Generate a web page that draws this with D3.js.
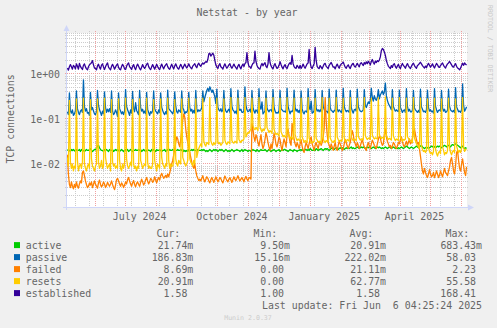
<!DOCTYPE html>
<html><head><meta charset="utf-8">
<script src="https://cdn.jsdelivr.net/npm/d3@7"></script>
<style>
html,body{margin:0;padding:0;background:#f0f0f0;}
svg{display:block;}
text{font-family:"DejaVu Sans Mono",monospace;}
</style></head><body>
<svg id="chart" width="497" height="328"></svg>
<script>
// ---- data (daily samples, values in milli-connections) ----
const firstSample = "2024-05-04T00:00:00Z";
const seriesNames = ["active","passive","failed","resets","established"];
const seriesColors = ["#00CC00","#0066B3","#FF8000","#FFCC00","#330099"];

const active = [
20,21,20,19,21,20,21, 20,19,21,20,20,21,19, 21,20,20,19,20,21,20, 20,21,22,20,19,20,21,
21,22,25,26,23,21,20, 20,19,21,20,21,20,19, 21,20,20,21,19,20,21, 20,21,20,19,20,21,20,
19,20,21,20,21,19,20, 21,20,19,20,20,21,20, 20,21,20,21,19,20,21, 20,19,20,21,20,20,19,
21,20,21,20,19,21,20, 20,21,20,19,20,20,21, 19,20,21,20,21,20,20, 21,20,19,20,20,21,20,
20,21,20,21,19,20,19, 20,19,21,20,20,21,20, 21,20,20,19,21,20,20, 20,21,20,21,20,19,20,
19,20,21,20,19,20,21, 20,21,20,19,20,21,20, 21,20,19,20,21,20,19, 20,19,20,21,20,19,20,
20,21,20,20,19,20,21, 19,20,21,20,20,19,20, 20,19,20,21,20,20,19, 21,20,19,20,21,20,20,
20,21,20,19,20,21,20, 19,20,20,21,20,19,20, 20,21,19,20,21,20,21, 21,20,20,19,20,21,20,
20,19,21,20,20,19,20, 20,21,20,21,20,20,21, 21,20,21,20,22,21,20, 20,21,20,22,21,20,21,
21,22,21,20,21,22,21, 22,21,20,21,22,23,22, 21,22,23,22,21,22,23, 22,23,22,21,22,23,22,
23,22,23,24,22,23,22, 22,23,24,23,22,23,24, 23,24,23,22,23,24,23, 24,23,22,23,24,23,22,
23,24,23,24,23,22,23, 22,23,24,23,22,23,24, 23,22,23,24,23,22,23, 22,23,22,23,24,23,22,
23,24,25,24,23,22,23, 24,23,22,23,24,25,24, 23,24,25,26,24,23,22, 23,24,23,22,23,24,25,
24,25,24,23,24,25,24, 25,24,23,24,25,26,25, 24,25,26,25,24,26,27, 26,27,28,27,26,25,24,
23,24,25,23,22,23,22];

const passive = [
145,125,380,150,135,160,120, 130,150,420,170,140,125,150, 160,140,740,190,150,170,135, 140,120,390,160,180,150,130,
125,145,430,200,160,140,120, 150,130,400,180,140,165,145, 170,140,420,150,125,135,160, 140,115,380,170,150,130,145,
125,150,450,190,160,140,120, 160,135,410,170,145,230,155, 140,125,430,180,150,165,135, 150,130,390,160,140,120,145,
135,155,420,170,150,140,130, 160,140,380,180,155,135,125, 145,130,440,170,160,150,140, 130,155,400,190,145,135,160,
150,140,420,175,160,130,145, 140,160,390,180,150,165,135, 155,135,430,170,145,160,150, 160,180,420,240,300,360,430,
480,410,520,450,390,440,370, 310,220,460,180,160,150,170, 145,160,430,175,150,140,155, 165,140,470,190,160,150,135,
150,130,440,170,155,165,140, 140,155,520,200,160,145,150, 165,140,430,180,150,135,160, 150,135,470,190,165,240,130,
140,150,420,175,155,145,160, 160,145,450,185,150,135,140, 135,155,430,170,160,150,145, 150,140,480,190,155,130,150,
145,160,440,180,150,165,140, 155,135,420,170,140,130,150, 150,140,470,185,160,250,135, 140,155,450,175,150,160,145,
160,145,430,190,165,140,150, 145,135,460,180,155,150,140, 155,150,440,170,145,160,150, 140,160,480,190,160,145,155,
150,140,430,180,150,135,160, 165,150,460,190,165,150,145, 150,160,450,200,180,210,240, 220,260,480,300,250,330,280,
260,300,450,280,340,380,420, 350,400,630,330,260,220,200, 180,160,450,190,165,150,160, 150,145,440,180,160,140,155,
160,140,470,190,150,165,145, 145,155,430,175,160,150,140, 155,140,460,185,165,145,150, 140,160,440,180,150,160,145,
150,135,470,190,160,140,155, 160,150,430,175,150,165,140, 145,155,460,190,160,150,145, 155,140,500,185,165,145,150,
140,160,600,200,150,165,187];

const failed = [
16,6,3.5,3,4,3.2,2.8, 3.5,3,4,3.2,2.9,3.6,4.2, 3.8,6.5,7,5.5,4.2,3.5,3, 3.2,3.8,3.4,4,3,3.5,4.2,
3.6,3.2,2.9,3.8,4.4,3.5,3.1, 3.4,4,3.6,3,3.3,3.9,3.5, 3.2,3.6,4.2,3.5,3,2.7,3.4, 4.5,4.8,4.2,3.6,3.2,3.8,3.5,
3,3.4,4,3.6,4.5,5,4.2, 3.6,3.2,3.8,4.3,3.5,3.1,3.7, 4,3.5,3.2,3.9,4.6,4,3.4, 3.8,4.4,5,4.2,3.6,4,4.8,
4.5,3.9,4.2,5.2,4.4,3.8,4.5, 5,4.4,5.5,6.2,5.4,4.8,5.2, 5.6,5,6,5.2,6.3,8,10, 12,16,22,30,40,36,28,
24,35,60,95,130,110,60, 40,30,24,18,14,11,9, 8,10,7,5.5,4.8,4.3,4.6, 4.2,4.8,5.5,4.5,4,4.6,5.2,
4.8,4.2,3.8,4.5,5,4.4,3.9, 4.5,5.2,4.6,4,4.4,5,4.7, 4.2,3.8,4.5,5.4,4.8,4.3,4, 4.6,5,4.4,3.9,4.5,5.2,4.6,
4.3,4.8,5.5,4.7,4.2,4.6,5, 4.5,4,4.8,5.3,4.6,4.3,4.9, 5,4.6,80,60,40,32,45, 38,30,25,34,45,28,22,
26,35,50,40,30,24,20, 28,22,32,48,38,27,24, 30,40,35,25,20,28,36, 30,24,45,60,42,30,26,
80,55,35,28,24,30,26, 22,28,35,25,20,18,24, 30,26,22,28,35,40,28, 24,20,26,30,25,22,28,
32,26,30,40,60,300,90, 45,30,26,22,28,24,20, 25,30,22,20,26,32,28, 24,20,22,28,35,30,25,
22,26,30,40,55,45,32, 28,24,30,26,22,25,30, 35,28,24,22,20,26,30, 25,22,28,34,30,26,24,
22,28,35,42,38,30,26, 28,45,60,40,32,28,24, 26,22,25,30,28,24,22, 25,30,28,35,40,32,26,
24,28,32,26,30,36,28, 30,38,50,60,45,35,28, 30,22,15,10,7,6,8, 6.5,5.5,5,6,7.5,6,5.2,
5.5,6.5,5,5.8,7,6,5, 5.6,7,6,5.2,6.4,8,6.5, 6,5.5,7,8.5,12,14,10, 7,6,9,18,20,12,8,
7,10,13,9,6.5,5.5,8.7];

const resets = [
14,9,260,11,8,10,7, 9,8,280,12,7,9,10, 8,11,290,10,8,7,9, 10,8,270,13,9,8,7,
9,10,280,11,8,9,12, 8,9,290,14,10,8,9, 10,7,270,11,9,10,8, 9,8,280,12,8,7,10,
8,10,290,13,9,8,9, 11,9,270,10,8,9,7, 9,8,280,12,10,8,9, 10,9,290,11,8,9,8,
8,10,270,12,9,7,10, 9,8,280,14,10,9,8, 10,9,290,12,8,10,9, 9,11,270,13,10,9,12,
11,10,280,14,12,10,9, 10,12,290,13,11,10,9, 12,10,280,14,18,22,25, 28,24,290,32,27,25,30,
29,27,300,33,28,26,30, 27,29,290,31,28,30,26, 28,30,280,34,29,27,31, 30,28,300,33,30,29,32,
31,29,290,35,32,30,34, 33,36,300,40,45,50,48, 55,60,290,70,62,58,65, 60,55,300,68,58,52,60,
55,62,290,65,57,50,55, 52,48,300,60,50,45,48, 45,42,290,52,46,40,43, 40,38,300,48,42,36,40,
38,35,290,45,38,33,36, 34,32,290,40,35,30,33, 32,30,300,38,33,29,31, 30,32,290,37,34,30,32,
31,29,300,36,32,30,33, 32,30,290,38,34,31,30, 33,31,300,40,35,32,34, 32,34,290,38,33,31,35,
34,32,300,41,36,33,35, 35,33,290,42,37,34,36, 36,34,300,43,38,35,37, 38,35,290,44,39,36,38,
37,36,300,45,40,37,39, 38,36,310,44,38,35,37, 36,34,290,42,37,33,36, 35,33,300,40,36,32,35,
34,36,290,41,37,34,33, 32,30,300,38,33,28,26, 24,22,290,26,21,19,20, 18,20,280,23,19,17,18,
16,19,290,22,17,15,18, 19,17,280,24,20,16,18, 17,20,290,23,18,16,19, 20,18,280,25,21,18,20,
18,22,300,24,19,21,21];

const established = [
1350,1220,1450,1620,1450,1280,1560, 1460,1300,1680,1480,1280,1720,1480, 1350,1260,1560,1680,1440,1300,1240,
1450,1600,1680,1780,1980,1600,1350, 1330,1240,1520,1650,1400,1280,1580, 1680,1420,1260,1450,1620,1760,1420,
1320,1240,1480,1640,1460,1280,1420, 1580,1680,1400,1280,1240,1460,1640, 1500,1300,1260,1480,1660,1760,1460,
1360,1260,1480,1620,1380,1250,1480, 1660,1480,1320,1240,1420,1620,1440, 1330,1460,1640,1740,1460,1320,1250,
1440,1620,1440,1280,1450,1640,1460, 1320,1250,1460,1660,1450,1300,1480, 1600,1700,1460,1320,1270,1460,1650,
1440,1300,1500,1680,1480,1340,1280, 1460,1640,1460,1300,1480,1660,1480, 1360,1500,1680,1480,1380,1300,1500,
1600,1700,1480,1380,1620,1740,1560, 1480,1640,1760,1660,1780,1880,1820, 2100,2800,2900,2500,2700,2900,2600,
2000,1600,1420,1330,1560,1700,1450, 1380,1280,1500,1680,1480,1340,1460, 1600,1700,1460,1340,1480,1660,1500,
1380,1280,1500,1640,1420,1300,1520, 1660,1460,1700,1800,3000,1800,1480, 1440,1340,1560,1720,1760,3200,1900,
1550,1400,1330,1280,1540,1720,1520, 1680,1780,1480,1380,1680,3000,1800, 1520,1380,1300,1560,1700,1460,1330,
1400,1560,1880,1620,1420,1300,1500, 1620,1400,1320,1520,1680,1780,1640, 2600,1700,1460,1360,1340,1560,1440,
1340,1560,1330,1460,1660,1460,1340, 1500,1680,1760,3500,1800,1420,1320, 1500,1700,3900,2000,1480,1360,1320,
1540,1420,1300,1480,1660,1720,1480, 1400,1320,1560,1680,1800,1600,1420, 1440,1300,1500,1660,1460,1340,1560,
1660,1740,1840,1600,1420,1340,1500, 1600,1420,1320,1520,1660,1720,1500, 1420,1560,1720,1560,1440,1700,1780,
1650,1540,1800,1660,1860,1700,1920, 1760,1600,1900,2100,1800,1660,1940, 1800,1980,1880,2050,2400,3300,3700,
3500,3100,2600,2000,1700,1480,1400, 1320,1540,1400,1620,1700,1460,1340, 1500,1640,1420,1320,1540,1720,1540,
1460,1340,1540,1700,1520,1400,1320, 1480,1640,1740,1540,1420,1340,1540, 1600,1720,1820,1680,1540,1440,1360,
1500,1380,1580,1720,1560,1420,1540, 1680,1480,1360,1540,1720,1600,1440, 1400,1540,1660,1760,1560,1440,1360,
1540,1680,1760,1900,1740,1600,1460, 1420,1580,1700,1480,1360,1320,1240, 1350,1540,1740,1560,1760,1640,1580];

const seriesData = [active, passive, failed, resets, established];

// axis ticks / labels
const yTickValues = [0.01, 0.1, 1];
const yTickLabels = ["1e-02", "1e-01", "1e+00"];
const xTickDates = ["2024-07-15", "2024-10-15", "2025-01-15", "2025-04-15"];
const xTickLabels = ["July 2024", "October 2024", "January 2025", "April 2025"];

// legend table
const legendCur = ["21.74m","186.83m","8.69m","20.91m","1.58"];
const legendMin = ["9.50m","15.16m","0.00","0.00","1.00"];
const legendAvg = ["20.91m","222.02m","21.11m","62.77m","1.58"];
const legendMax = ["683.43m","58.03","2.23","55.58","168.41"];

// ---- drawing ----
const svg = d3.select("#chart");
const FONT = "#666666";
const FS = 9.9;
const CW = FS * 0.6021;
const P = {l: 67, r: 467, t: 33, b: 207};

svg.append("rect").attr("width", 497).attr("height", 328).attr("fill", "#f0f0f0");
svg.append("rect").attr("x", P.l).attr("y", P.t).attr("width", P.r - P.l).attr("height", P.b - P.t).attr("fill", "#ffffff");

const x = d3.scaleUtc()
  .domain([new Date("2024-05-03T14:24:00Z"), new Date("2025-06-06T09:40:00Z")])
  .range([P.l, P.r]);
const y = d3.scaleLog().domain([1.107e-3, 8.15]).range([P.b, P.t]);

const grid = svg.append("g").attr("shape-rendering", "crispEdges");
const [y0, y1] = y.domain();
for (let e = -3; e <= 0; e++) {
  for (let m = 1; m <= 9; m++) {
    const v = m * Math.pow(10, e);
    if (v < y0 || v > y1) continue;
    const yy = Math.floor(y(v)) + 0.5;
    grid.append("line").attr("x1", P.l - 2).attr("x2", P.r + 2).attr("y1", yy).attr("y2", yy)
      .attr("stroke", m === 1 ? "#f0a0a0" : "#cccccc").attr("stroke-dasharray", "1,1");
  }
}
const start = x.domain()[0], end = x.domain()[1];
d3.utcDay.range(new Date("2024-05-12T00:00:00Z"), end, 14).forEach(d => {
  const xx = Math.floor(x(d)) + 0.5;
  grid.append("line").attr("x1", xx).attr("x2", xx).attr("y1", P.t - 2).attr("y2", P.b + 2)
    .attr("stroke", "#cccccc").attr("stroke-dasharray", "1,1");
});
d3.utcMonth.range(start, end).forEach(d => {
  const xx = Math.floor(x(d)) + 0.5;
  grid.append("line").attr("x1", xx).attr("x2", xx).attr("y1", P.t - 2).attr("y2", P.b + 2)
    .attr("stroke", "#f0a0a0").attr("stroke-dasharray", "1,1");
});

// series lines
const t0 = new Date(firstSample);
const dateOf = i => d3.utcDay.offset(t0, i);
svg.append("clipPath").attr("id", "clip").append("rect")
  .attr("x", P.l).attr("y", P.t).attr("width", P.r - P.l).attr("height", P.b - P.t);
const lineGen = d3.line().x((d, i) => x(dateOf(i))).y(d => y(Math.max(d / 1000, 1.2e-3)));
const lines = svg.append("g").attr("clip-path", "url(#clip)");
seriesData.forEach((arr, k) => {
  lines.append("path").datum(arr).attr("d", lineGen).attr("fill", "none")
    .attr("stroke", seriesColors[k]).attr("stroke-width", 1.3).attr("stroke-linejoin", "round");
});

// axes
const AX = "#CFD6F8";
svg.append("line").attr("x1", P.l - 4).attr("x2", P.r + 2).attr("y1", 207.5).attr("y2", 207.5).attr("stroke", AX);
svg.append("path").attr("d", "M468,204.5L474,207.5L468,210.5Z").attr("fill", AX);
svg.append("line").attr("x1", 66.5).attr("x2", 66.5).attr("y1", P.b + 3).attr("y2", P.t - 2).attr("stroke", AX);
svg.append("path").attr("d", "M63.5,31L66.5,25L69.5,31Z").attr("fill", AX);

const txt = (s, xx, yy, anchor, opts = {}) => svg.append("text").attr("x", xx).attr("y", yy)
  .attr("text-anchor", anchor || "start").attr("font-size", opts.fs || FS)
  .attr("fill", opts.fill || FONT).text(s);

yTickValues.forEach((v, i) => txt(yTickLabels[i], 60, y(v) + 3.6, "end"));
xTickDates.forEach((d, i) => txt(xTickLabels[i], x(new Date(d + "T00:00:00Z")), 220.3, "middle"));

txt("Netstat - by year", 247, 15.6, "middle");
svg.append("text").attr("transform", "translate(13.8,119) rotate(-90)").attr("text-anchor", "middle")
  .attr("font-size", FS).attr("fill", FONT).text("TCP connections");
svg.append("text").attr("transform", "translate(487.5,5) rotate(90)").attr("text-anchor", "start")
  .attr("font-size", 6.6).attr("fill", "#c8c8c8").text("RRDTOOL / TOBI OETIKER");

txt("Cur:", 180.3, 236.8, "end");
txt("Min:", 277.3, 236.8, "end");
txt("Avg:", 373.3, 236.8, "end");
txt("Max:", 469.3, 236.8, "end");
const cols = [[legendCur, 193.3], [legendMin, 290], [legendAvg, 386], [legendMax, 482]];
seriesNames.forEach((name, i) => {
  const by = 248.6 + i * 12;
  svg.append("rect").attr("x", 14).attr("y", by - 6.5).attr("width", 6).attr("height", 6).attr("fill", seriesColors[i]);
  txt(name, 25.7, by, "start");
  cols.forEach(([arr, xe]) => {
    const s = arr[i];
    txt(s, s.endsWith("m") ? xe : xe - CW, by, "end");
  });
});
txt("Last update: Fri Jun  6 04:25:24 2025", 482, 308.9, "end").style("white-space", "pre");
txt("Munin 2.0.37", 248, 319.5, "middle", {fs: 6.6, fill: "#cccccc"});
</script>
</body></html>
